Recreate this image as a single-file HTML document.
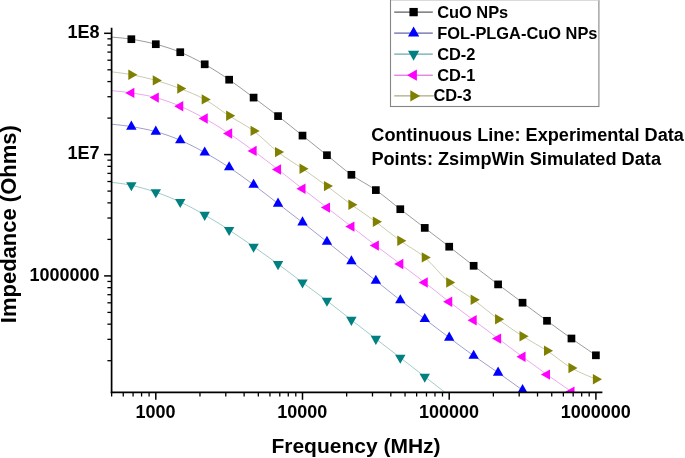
<!DOCTYPE html>
<html><head><meta charset="utf-8"><title>Impedance vs Frequency</title>
<style>html,body{margin:0;padding:0;background:#fff;overflow:hidden}svg{display:block;filter:blur(0.35px)}text{font-family:"Liberation Sans",sans-serif;font-weight:bold;fill:#000}</style>
</head><body><svg width="685" height="458" viewBox="0 0 685 458"><defs><clipPath id="pc"><rect x="111.6" y="0" width="573.4" height="392.3"/></clipPath></defs><g clip-path="url(#pc)"><path d="M111.60,37.10 C114.89,37.45 123.98,38.02 131.35,39.20 C138.72,40.38 147.65,42.03 155.80,44.20 C163.95,46.37 172.10,48.85 180.25,52.20 C188.40,55.55 196.55,59.72 204.70,64.30 C212.85,68.88 221.00,74.15 229.15,79.70 C237.30,85.25 245.45,91.53 253.60,97.60 C261.75,103.67 269.90,109.77 278.05,116.10 C286.20,122.43 294.35,129.08 302.50,135.60 C310.65,142.12 318.80,148.67 326.95,155.20 C335.10,161.73 343.25,168.98 351.40,174.80 C359.55,180.62 367.70,184.37 375.85,190.10 C384.00,195.83 392.15,202.90 400.30,209.20 C408.45,215.50 416.60,221.65 424.75,227.90 C432.90,234.15 441.05,240.38 449.20,246.70 C457.35,253.02 465.50,259.52 473.65,265.80 C481.80,272.08 489.95,278.25 498.10,284.40 C506.25,290.55 514.40,296.63 522.55,302.70 C530.70,308.77 538.85,314.83 547.00,320.80 C555.15,326.77 563.30,332.75 571.45,338.50 C579.60,344.25 591.82,352.50 595.90,355.30" fill="none" stroke="#202020" stroke-width="0.6" stroke-opacity="0.75"/><path d="M111.60,71.80 C114.89,72.28 123.98,73.27 131.35,74.70 C138.72,76.13 147.65,78.08 155.80,80.40 C163.95,82.72 172.10,85.43 180.25,88.60 C188.40,91.77 196.55,94.87 204.70,99.40 C212.85,103.93 221.00,110.55 229.15,115.80 C237.30,121.05 245.45,124.85 253.60,130.90 C261.75,136.95 269.90,145.80 278.05,152.10 C286.20,158.40 294.35,163.03 302.50,168.70 C310.65,174.37 318.80,180.10 326.95,186.10 C335.10,192.10 343.25,198.75 351.40,204.70 C359.55,210.65 367.70,215.78 375.85,221.80 C384.00,227.82 392.15,234.87 400.30,240.80 C408.45,246.73 416.60,250.45 424.75,257.40 C432.90,264.35 441.05,275.45 449.20,282.50 C457.35,289.55 465.50,293.58 473.65,299.70 C481.80,305.82 489.95,313.12 498.10,319.20 C506.25,325.28 514.40,330.95 522.55,336.20 C530.70,341.45 538.85,345.40 547.00,350.70 C555.15,356.00 563.30,363.25 571.45,368.00 C579.60,372.75 591.82,377.33 595.90,379.20" fill="none" stroke="#8a8a50" stroke-width="0.6" stroke-opacity="0.75"/><path d="M111.60,90.60 C114.89,90.98 123.98,91.73 131.35,92.90 C138.72,94.07 147.65,95.38 155.80,97.60 C163.95,99.82 172.10,102.72 180.25,106.20 C188.40,109.68 196.55,113.95 204.70,118.50 C212.85,123.05 221.00,128.10 229.15,133.50 C237.30,138.90 245.45,144.90 253.60,150.90 C261.75,156.90 269.90,163.18 278.05,169.50 C286.20,175.82 294.35,182.45 302.50,188.80 C310.65,195.15 318.80,201.30 326.95,207.60 C335.10,213.90 343.25,220.27 351.40,226.60 C359.55,232.93 367.70,239.37 375.85,245.60 C384.00,251.83 392.15,257.85 400.30,264.00 C408.45,270.15 416.60,276.20 424.75,282.50 C432.90,288.80 441.05,295.52 449.20,301.80 C457.35,308.08 465.50,314.07 473.65,320.20 C481.80,326.33 489.95,332.50 498.10,338.60 C506.25,344.70 514.40,350.80 522.55,356.80 C530.70,362.80 538.85,368.78 547.00,374.60 C555.15,380.42 563.30,386.00 571.45,391.70 C579.60,397.40 591.82,405.95 595.90,408.80" fill="none" stroke="#d040d0" stroke-width="0.6" stroke-opacity="0.75"/><path d="M111.60,124.20 C114.89,124.60 123.98,125.38 131.35,126.62 C138.72,127.85 147.65,129.35 155.80,131.62 C163.95,133.88 172.10,136.73 180.25,140.22 C188.40,143.70 196.55,148.00 204.70,152.52 C212.85,157.03 221.00,161.93 229.15,167.32 C237.30,172.70 245.45,178.77 253.60,184.82 C261.75,190.87 269.90,197.35 278.05,203.62 C286.20,209.88 294.35,216.07 302.50,222.42 C310.65,228.77 318.80,235.23 326.95,241.72 C335.10,248.20 343.25,254.82 351.40,261.32 C359.55,267.82 367.70,274.23 375.85,280.72 C384.00,287.20 392.15,293.83 400.30,300.22 C408.45,306.60 416.60,312.78 424.75,319.02 C432.90,325.25 441.05,331.50 449.20,337.62 C457.35,343.73 465.50,349.88 473.65,355.72 C481.80,361.55 489.95,366.88 498.10,372.62 C506.25,378.35 514.40,384.28 522.55,390.12 C530.70,395.95 542.92,404.70 547.00,407.62" fill="none" stroke="#28288c" stroke-width="0.6" stroke-opacity="0.75"/><path d="M111.60,182.30 C114.89,182.80 123.98,183.64 131.35,185.28 C138.72,186.93 147.65,189.40 155.80,192.18 C163.95,194.97 172.10,198.20 180.25,201.98 C188.40,205.77 196.55,210.22 204.70,214.88 C212.85,219.55 221.00,224.68 229.15,229.98 C237.30,235.28 245.45,241.00 253.60,246.68 C261.75,252.37 269.90,258.12 278.05,264.08 C286.20,270.05 294.35,276.37 302.50,282.48 C310.65,288.60 318.80,294.55 326.95,300.78 C335.10,307.02 343.25,313.53 351.40,319.88 C359.55,326.23 367.70,332.58 375.85,338.88 C384.00,345.18 392.15,351.38 400.30,357.68 C408.45,363.98 416.90,370.58 424.75,376.68 C432.60,382.79 443.64,391.36 447.42,394.30" fill="none" stroke="#308888" stroke-width="0.6" stroke-opacity="0.75"/><rect x="127.50" y="35.35" width="7.70" height="7.70" fill="#000"/><rect x="151.95" y="40.35" width="7.70" height="7.70" fill="#000"/><rect x="176.40" y="48.35" width="7.70" height="7.70" fill="#000"/><rect x="200.85" y="60.45" width="7.70" height="7.70" fill="#000"/><rect x="225.30" y="75.85" width="7.70" height="7.70" fill="#000"/><rect x="249.75" y="93.75" width="7.70" height="7.70" fill="#000"/><rect x="274.20" y="112.25" width="7.70" height="7.70" fill="#000"/><rect x="298.65" y="131.75" width="7.70" height="7.70" fill="#000"/><rect x="323.10" y="151.35" width="7.70" height="7.70" fill="#000"/><rect x="347.55" y="170.95" width="7.70" height="7.70" fill="#000"/><rect x="372.00" y="186.25" width="7.70" height="7.70" fill="#000"/><rect x="396.45" y="205.35" width="7.70" height="7.70" fill="#000"/><rect x="420.90" y="224.05" width="7.70" height="7.70" fill="#000"/><rect x="445.35" y="242.85" width="7.70" height="7.70" fill="#000"/><rect x="469.80" y="261.95" width="7.70" height="7.70" fill="#000"/><rect x="494.25" y="280.55" width="7.70" height="7.70" fill="#000"/><rect x="518.70" y="298.85" width="7.70" height="7.70" fill="#000"/><rect x="543.15" y="316.95" width="7.70" height="7.70" fill="#000"/><rect x="567.60" y="334.65" width="7.70" height="7.70" fill="#000"/><rect x="592.05" y="351.45" width="7.70" height="7.70" fill="#000"/><polygon points="128.32,69.50 128.32,79.90 137.42,74.70" fill="#808000"/><polygon points="152.77,75.20 152.77,85.60 161.87,80.40" fill="#808000"/><polygon points="177.22,83.40 177.22,93.80 186.32,88.60" fill="#808000"/><polygon points="201.67,94.20 201.67,104.60 210.77,99.40" fill="#808000"/><polygon points="226.12,110.60 226.12,121.00 235.22,115.80" fill="#808000"/><polygon points="250.57,125.70 250.57,136.10 259.67,130.90" fill="#808000"/><polygon points="275.02,146.90 275.02,157.30 284.12,152.10" fill="#808000"/><polygon points="299.47,163.50 299.47,173.90 308.57,168.70" fill="#808000"/><polygon points="323.92,180.90 323.92,191.30 333.02,186.10" fill="#808000"/><polygon points="348.37,199.50 348.37,209.90 357.47,204.70" fill="#808000"/><polygon points="372.82,216.60 372.82,227.00 381.92,221.80" fill="#808000"/><polygon points="397.27,235.60 397.27,246.00 406.37,240.80" fill="#808000"/><polygon points="421.72,252.20 421.72,262.60 430.82,257.40" fill="#808000"/><polygon points="446.17,277.30 446.17,287.70 455.27,282.50" fill="#808000"/><polygon points="470.62,294.50 470.62,304.90 479.72,299.70" fill="#808000"/><polygon points="495.07,314.00 495.07,324.40 504.17,319.20" fill="#808000"/><polygon points="519.52,331.00 519.52,341.40 528.62,336.20" fill="#808000"/><polygon points="543.97,345.50 543.97,355.90 553.07,350.70" fill="#808000"/><polygon points="568.42,362.80 568.42,373.20 577.52,368.00" fill="#808000"/><polygon points="592.87,374.00 592.87,384.40 601.97,379.20" fill="#808000"/><polygon points="134.38,87.70 134.38,98.10 125.28,92.90" fill="#ff00ff"/><polygon points="158.83,92.40 158.83,102.80 149.73,97.60" fill="#ff00ff"/><polygon points="183.28,101.00 183.28,111.40 174.18,106.20" fill="#ff00ff"/><polygon points="207.73,113.30 207.73,123.70 198.63,118.50" fill="#ff00ff"/><polygon points="232.18,128.30 232.18,138.70 223.08,133.50" fill="#ff00ff"/><polygon points="256.63,145.70 256.63,156.10 247.53,150.90" fill="#ff00ff"/><polygon points="281.08,164.30 281.08,174.70 271.98,169.50" fill="#ff00ff"/><polygon points="305.53,183.60 305.53,194.00 296.43,188.80" fill="#ff00ff"/><polygon points="329.98,202.40 329.98,212.80 320.88,207.60" fill="#ff00ff"/><polygon points="354.43,221.40 354.43,231.80 345.33,226.60" fill="#ff00ff"/><polygon points="378.88,240.40 378.88,250.80 369.78,245.60" fill="#ff00ff"/><polygon points="403.33,258.80 403.33,269.20 394.23,264.00" fill="#ff00ff"/><polygon points="427.78,277.30 427.78,287.70 418.68,282.50" fill="#ff00ff"/><polygon points="452.23,296.60 452.23,307.00 443.13,301.80" fill="#ff00ff"/><polygon points="476.68,315.00 476.68,325.40 467.58,320.20" fill="#ff00ff"/><polygon points="501.13,333.40 501.13,343.80 492.03,338.60" fill="#ff00ff"/><polygon points="525.58,351.60 525.58,362.00 516.48,356.80" fill="#ff00ff"/><polygon points="550.03,369.40 550.03,379.80 540.93,374.60" fill="#ff00ff"/><polygon points="574.48,386.50 574.48,396.90 565.38,391.70" fill="#ff00ff"/><polygon points="126.15,129.65 136.55,129.65 131.35,120.55" fill="#0000ff"/><polygon points="150.60,134.65 161.00,134.65 155.80,125.55" fill="#0000ff"/><polygon points="175.05,143.25 185.45,143.25 180.25,134.15" fill="#0000ff"/><polygon points="199.50,155.55 209.90,155.55 204.70,146.45" fill="#0000ff"/><polygon points="223.95,170.35 234.35,170.35 229.15,161.25" fill="#0000ff"/><polygon points="248.40,187.85 258.80,187.85 253.60,178.75" fill="#0000ff"/><polygon points="272.85,206.65 283.25,206.65 278.05,197.55" fill="#0000ff"/><polygon points="297.30,225.45 307.70,225.45 302.50,216.35" fill="#0000ff"/><polygon points="321.75,244.75 332.15,244.75 326.95,235.65" fill="#0000ff"/><polygon points="346.20,264.35 356.60,264.35 351.40,255.25" fill="#0000ff"/><polygon points="370.65,283.75 381.05,283.75 375.85,274.65" fill="#0000ff"/><polygon points="395.10,303.25 405.50,303.25 400.30,294.15" fill="#0000ff"/><polygon points="419.55,322.05 429.95,322.05 424.75,312.95" fill="#0000ff"/><polygon points="444.00,340.65 454.40,340.65 449.20,331.55" fill="#0000ff"/><polygon points="468.45,358.75 478.85,358.75 473.65,349.65" fill="#0000ff"/><polygon points="492.90,375.65 503.30,375.65 498.10,366.55" fill="#0000ff"/><polygon points="517.35,393.15 527.75,393.15 522.55,384.05" fill="#0000ff"/><polygon points="126.15,182.25 136.55,182.25 131.35,191.35" fill="#008080"/><polygon points="150.60,189.15 161.00,189.15 155.80,198.25" fill="#008080"/><polygon points="175.05,198.95 185.45,198.95 180.25,208.05" fill="#008080"/><polygon points="199.50,211.85 209.90,211.85 204.70,220.95" fill="#008080"/><polygon points="223.95,226.95 234.35,226.95 229.15,236.05" fill="#008080"/><polygon points="248.40,243.65 258.80,243.65 253.60,252.75" fill="#008080"/><polygon points="272.85,261.05 283.25,261.05 278.05,270.15" fill="#008080"/><polygon points="297.30,279.45 307.70,279.45 302.50,288.55" fill="#008080"/><polygon points="321.75,297.75 332.15,297.75 326.95,306.85" fill="#008080"/><polygon points="346.20,316.85 356.60,316.85 351.40,325.95" fill="#008080"/><polygon points="370.65,335.85 381.05,335.85 375.85,344.95" fill="#008080"/><polygon points="395.10,354.65 405.50,354.65 400.30,363.75" fill="#008080"/><polygon points="419.55,373.65 429.95,373.65 424.75,382.75" fill="#008080"/></g><line x1="111.6" y1="27.8" x2="111.6" y2="393.2" stroke="#000" stroke-width="1.7"/><line x1="110.75" y1="392.3" x2="602.4" y2="392.3" stroke="#000" stroke-width="1.7"/><line x1="107.39999999999999" y1="360.69" x2="111.6" y2="360.69" stroke="#000" stroke-width="1.3"/><line x1="107.39999999999999" y1="339.33" x2="111.6" y2="339.33" stroke="#000" stroke-width="1.3"/><line x1="107.39999999999999" y1="324.17" x2="111.6" y2="324.17" stroke="#000" stroke-width="1.3"/><line x1="107.39999999999999" y1="312.41" x2="111.6" y2="312.41" stroke="#000" stroke-width="1.3"/><line x1="107.39999999999999" y1="302.81" x2="111.6" y2="302.81" stroke="#000" stroke-width="1.3"/><line x1="107.39999999999999" y1="294.69" x2="111.6" y2="294.69" stroke="#000" stroke-width="1.3"/><line x1="107.39999999999999" y1="287.66" x2="111.6" y2="287.66" stroke="#000" stroke-width="1.3"/><line x1="107.39999999999999" y1="281.45" x2="111.6" y2="281.45" stroke="#000" stroke-width="1.3"/><line x1="104.1" y1="275.90" x2="111.6" y2="275.90" stroke="#000" stroke-width="1.5"/><line x1="107.39999999999999" y1="239.39" x2="111.6" y2="239.39" stroke="#000" stroke-width="1.3"/><line x1="107.39999999999999" y1="218.03" x2="111.6" y2="218.03" stroke="#000" stroke-width="1.3"/><line x1="107.39999999999999" y1="202.87" x2="111.6" y2="202.87" stroke="#000" stroke-width="1.3"/><line x1="107.39999999999999" y1="191.11" x2="111.6" y2="191.11" stroke="#000" stroke-width="1.3"/><line x1="107.39999999999999" y1="181.51" x2="111.6" y2="181.51" stroke="#000" stroke-width="1.3"/><line x1="107.39999999999999" y1="173.39" x2="111.6" y2="173.39" stroke="#000" stroke-width="1.3"/><line x1="107.39999999999999" y1="166.36" x2="111.6" y2="166.36" stroke="#000" stroke-width="1.3"/><line x1="107.39999999999999" y1="160.15" x2="111.6" y2="160.15" stroke="#000" stroke-width="1.3"/><line x1="104.1" y1="154.60" x2="111.6" y2="154.60" stroke="#000" stroke-width="1.5"/><line x1="107.39999999999999" y1="118.09" x2="111.6" y2="118.09" stroke="#000" stroke-width="1.3"/><line x1="107.39999999999999" y1="96.73" x2="111.6" y2="96.73" stroke="#000" stroke-width="1.3"/><line x1="107.39999999999999" y1="81.57" x2="111.6" y2="81.57" stroke="#000" stroke-width="1.3"/><line x1="107.39999999999999" y1="69.81" x2="111.6" y2="69.81" stroke="#000" stroke-width="1.3"/><line x1="107.39999999999999" y1="60.21" x2="111.6" y2="60.21" stroke="#000" stroke-width="1.3"/><line x1="107.39999999999999" y1="52.09" x2="111.6" y2="52.09" stroke="#000" stroke-width="1.3"/><line x1="107.39999999999999" y1="45.06" x2="111.6" y2="45.06" stroke="#000" stroke-width="1.3"/><line x1="107.39999999999999" y1="38.85" x2="111.6" y2="38.85" stroke="#000" stroke-width="1.3"/><line x1="104.1" y1="33.30" x2="111.6" y2="33.30" stroke="#000" stroke-width="1.5"/><line x1="111.64" y1="392.3" x2="111.64" y2="396.5" stroke="#000" stroke-width="1.3"/><line x1="123.25" y1="392.3" x2="123.25" y2="396.5" stroke="#000" stroke-width="1.3"/><line x1="133.08" y1="392.3" x2="133.08" y2="396.5" stroke="#000" stroke-width="1.3"/><line x1="141.58" y1="392.3" x2="141.58" y2="396.5" stroke="#000" stroke-width="1.3"/><line x1="149.09" y1="392.3" x2="149.09" y2="396.5" stroke="#000" stroke-width="1.3"/><line x1="155.80" y1="392.3" x2="155.80" y2="399.8" stroke="#000" stroke-width="1.5"/><line x1="199.96" y1="392.3" x2="199.96" y2="396.5" stroke="#000" stroke-width="1.3"/><line x1="225.79" y1="392.3" x2="225.79" y2="396.5" stroke="#000" stroke-width="1.3"/><line x1="244.12" y1="392.3" x2="244.12" y2="396.5" stroke="#000" stroke-width="1.3"/><line x1="258.34" y1="392.3" x2="258.34" y2="396.5" stroke="#000" stroke-width="1.3"/><line x1="269.95" y1="392.3" x2="269.95" y2="396.5" stroke="#000" stroke-width="1.3"/><line x1="279.78" y1="392.3" x2="279.78" y2="396.5" stroke="#000" stroke-width="1.3"/><line x1="288.28" y1="392.3" x2="288.28" y2="396.5" stroke="#000" stroke-width="1.3"/><line x1="295.79" y1="392.3" x2="295.79" y2="396.5" stroke="#000" stroke-width="1.3"/><line x1="302.50" y1="392.3" x2="302.50" y2="399.8" stroke="#000" stroke-width="1.5"/><line x1="346.66" y1="392.3" x2="346.66" y2="396.5" stroke="#000" stroke-width="1.3"/><line x1="372.49" y1="392.3" x2="372.49" y2="396.5" stroke="#000" stroke-width="1.3"/><line x1="390.82" y1="392.3" x2="390.82" y2="396.5" stroke="#000" stroke-width="1.3"/><line x1="405.04" y1="392.3" x2="405.04" y2="396.5" stroke="#000" stroke-width="1.3"/><line x1="416.65" y1="392.3" x2="416.65" y2="396.5" stroke="#000" stroke-width="1.3"/><line x1="426.48" y1="392.3" x2="426.48" y2="396.5" stroke="#000" stroke-width="1.3"/><line x1="434.98" y1="392.3" x2="434.98" y2="396.5" stroke="#000" stroke-width="1.3"/><line x1="442.49" y1="392.3" x2="442.49" y2="396.5" stroke="#000" stroke-width="1.3"/><line x1="449.20" y1="392.3" x2="449.20" y2="399.8" stroke="#000" stroke-width="1.5"/><line x1="493.36" y1="392.3" x2="493.36" y2="396.5" stroke="#000" stroke-width="1.3"/><line x1="519.19" y1="392.3" x2="519.19" y2="396.5" stroke="#000" stroke-width="1.3"/><line x1="537.52" y1="392.3" x2="537.52" y2="396.5" stroke="#000" stroke-width="1.3"/><line x1="551.74" y1="392.3" x2="551.74" y2="396.5" stroke="#000" stroke-width="1.3"/><line x1="563.35" y1="392.3" x2="563.35" y2="396.5" stroke="#000" stroke-width="1.3"/><line x1="573.18" y1="392.3" x2="573.18" y2="396.5" stroke="#000" stroke-width="1.3"/><line x1="581.68" y1="392.3" x2="581.68" y2="396.5" stroke="#000" stroke-width="1.3"/><line x1="589.19" y1="392.3" x2="589.19" y2="396.5" stroke="#000" stroke-width="1.3"/><line x1="595.90" y1="392.3" x2="595.90" y2="399.8" stroke="#000" stroke-width="1.5"/><text x="99.6" y="37.80" text-anchor="end" font-family="Liberation Sans, sans-serif" font-weight="bold" font-size="18">1E8</text><text x="99.6" y="159.00" text-anchor="end" font-family="Liberation Sans, sans-serif" font-weight="bold" font-size="18">1E7</text><text x="99.6" y="280.50" text-anchor="end" font-family="Liberation Sans, sans-serif" font-weight="bold" font-size="18">1000000</text><text x="155.60" y="417.8" text-anchor="middle" font-family="Liberation Sans, sans-serif" font-weight="bold" font-size="18">1000</text><text x="302.30" y="417.8" text-anchor="middle" font-family="Liberation Sans, sans-serif" font-weight="bold" font-size="18">10000</text><text x="449.00" y="417.8" text-anchor="middle" font-family="Liberation Sans, sans-serif" font-weight="bold" font-size="18">100000</text><text x="595.70" y="417.8" text-anchor="middle" font-family="Liberation Sans, sans-serif" font-weight="bold" font-size="18">1000000</text><text x="271.4" y="453" font-family="Liberation Sans, sans-serif" font-weight="bold" font-size="21">Frequency (MHz)</text><text transform="translate(16.2,323.2) rotate(-90)" font-family="Liberation Sans, sans-serif" font-weight="bold" font-size="22">Impedance (Ohms)</text><text x="371.3" y="140.6" font-family="Liberation Sans, sans-serif" font-weight="bold" font-size="18" textLength="312.6" lengthAdjust="spacingAndGlyphs">Continuous Line: Experimental Data</text><text x="371.4" y="164.7" font-family="Liberation Sans, sans-serif" font-weight="bold" font-size="18" textLength="289.6" lengthAdjust="spacingAndGlyphs">Points: ZsimpWin Simulated Data</text><rect x="390.5" y="-0.5" width="208.4" height="107" fill="#fff" stroke="#858585" stroke-width="1.1"/><line x1="391" y1="0.5" x2="598.5" y2="0.5" stroke="#dadada" stroke-width="1"/><line x1="394.2" y1="12.10" x2="432.8" y2="12.10" stroke="#202020" stroke-width="0.9"/><rect x="409.44" y="7.94" width="8.32" height="8.32" fill="#000"/><text x="437.2" y="17.50" font-family="Liberation Sans, sans-serif" font-weight="bold" font-size="16.4">CuO NPs</text><line x1="394.2" y1="33.10" x2="432.8" y2="33.10" stroke="#28288c" stroke-width="0.9"/><polygon points="407.98,36.38 419.22,36.38 413.60,26.55" fill="#0000ff"/><text x="437.2" y="38.50" font-family="Liberation Sans, sans-serif" font-weight="bold" font-size="16.4">FOL-PLGA-CuO NPs</text><line x1="394.2" y1="54.10" x2="432.8" y2="54.10" stroke="#308888" stroke-width="0.9"/><polygon points="407.98,50.82 419.22,50.82 413.60,60.65" fill="#008080"/><text x="437.2" y="59.50" font-family="Liberation Sans, sans-serif" font-weight="bold" font-size="16.4">CD-2</text><line x1="394.2" y1="75.20" x2="432.8" y2="75.20" stroke="#d040d0" stroke-width="0.9"/><polygon points="416.88,69.58 416.88,80.82 407.05,75.20" fill="#ff00ff"/><text x="437.2" y="80.60" font-family="Liberation Sans, sans-serif" font-weight="bold" font-size="16.4">CD-1</text><line x1="394.2" y1="95.90" x2="433.8" y2="95.90" stroke="#8a8a50" stroke-width="0.9"/><polygon points="410.32,90.28 410.32,101.52 420.15,95.90" fill="#808000"/><text x="433.4" y="101.30" font-family="Liberation Sans, sans-serif" font-weight="bold" font-size="16.4">CD-3</text></svg></body></html>
